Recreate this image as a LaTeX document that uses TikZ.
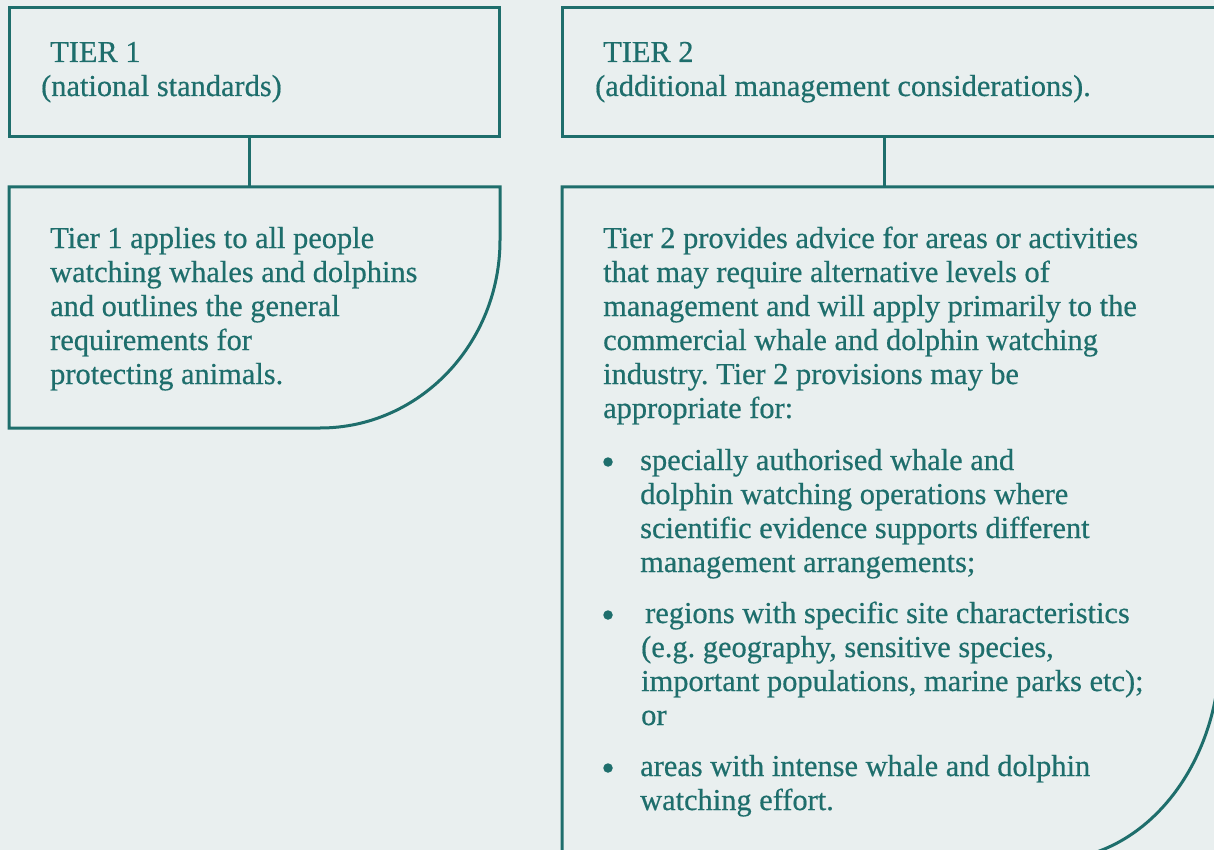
\documentclass[tikz,border=0pt]{standalone}
\usepackage{fontspec}
\setmainfont{Liberation Serif}[FakeBold=0.5]
\usepackage{tikz}
\usetikzlibrary{positioning}
\definecolor{tierteal}{RGB}{30,110,108}
\definecolor{tierbg}{RGB}{233,239,239}
\frenchspacing
\newcommand{\tierpar}[1]{\parbox[t]{640pt}{\fontsize{30.4}{34}\selectfont\raggedright #1}}

\begin{document}
\begin{tikzpicture}[x=1pt,y=1pt,
    tierbox/.style={draw=tierteal,line width=3pt,rectangle,anchor=north west,inner sep=0pt,outer sep=0pt},
    descbox/.style={rectangle,anchor=north west,inner sep=0pt,outer sep=0pt},
    tierline/.style={draw=tierteal,line width=3pt},
    tiertext/.style={anchor=base west,inner sep=0pt,text=tierteal},
    tierdot/.style={circle,fill=tierteal,inner sep=0pt,minimum size=9.5pt}]
    \fill[tierbg] (0,0) rectangle (1214,-850);
    \useasboundingbox (0,0) rectangle (1214,-850);
    \node[tierbox,minimum width=490pt,minimum height=129pt] (t1) at (9,-8) {};
    \node[tierbox,minimum width=654pt,minimum height=129pt] (t2) at (562,-8) {};
    \node[descbox,minimum width=491pt,minimum height=241pt] (d1) at (9,-187) {};
    \node[descbox,minimum width=658pt,minimum height=673pt] (d2) at (562,-187) {};
    % boxes with the curved corner
    \draw[tierline] (d1.north west) -- (d1.north east) -- ++(0,-53)
        arc[start angle=0,end angle=-90,x radius=180,y radius=188] -- (d1.south west) -- cycle;
    \draw[tierline] (d2.north west) -- (d2.north east) -- ++(0,-463)
        arc[start angle=0,end angle=-90,x radius=170,y radius=210] -- (d2.south west) -- cycle;
    \draw[tierline] ([xshift=-5pt]t1.south) -- ([xshift=-5pt]t1.south |- d1.north);
    \draw[tierline] ([xshift=-5pt]t2.south) -- ([xshift=-5pt]t2.south |- d2.north);
    % texts
    \node[tiertext] (h1) at ([shift={(32,-54)}]t1.north west) {\tierpar{\hspace*{9pt}TIER 1\\(national standards)}};
    \node[tiertext] (h2) at ([shift={(33,-54)}]t2.north west) {\tierpar{\hspace*{8pt}TIER 2\\(additional management considerations).}};
    \node[tiertext] (p1) at ([shift={(41,-61)}]d1.north west) {\tierpar{Tier 1 applies to all people\\watching whales and dolphins\\and outlines the general\\requirements for\\protecting animals.}};
    \node[tiertext] (p2) at ([shift={(41,-61)}]d2.north west) {\tierpar{Tier 2 provides advice for areas or activities\\that may require alternative levels of\\management and will apply primarily to the\\commercial whale and dolphin watching\\industry. Tier 2 provisions may be\\appropriate for:}};
    \node[tiertext] (i1) at ([shift={(78,-283)}]d2.north west) {\tierpar{specially authorised whale and\\dolphin watching operations where\\scientific evidence supports different\\management arrangements;}};
    \node[tiertext] (i2) at ([shift={(79,-436)}]d2.north west) {\tierpar{\hspace*{4pt}regions with specific site characteristics\\(e.g. geography, sensitive species,\\important populations, marine parks etc);\\or}};
    \node[tiertext] (i3) at ([shift={(78,-589)}]d2.north west) {\tierpar{areas with intense whale and dolphin\\watching effort.}};
    \node[tierdot] (b1) at ([shift={(-32,8)}]i1.base west) {};
    \node[tierdot] (b2) at ([shift={(-32,8)}]i1.base west |- i2.base) {};
    \node[tierdot] (b3) at ([shift={(-32,8)}]i1.base west |- i3.base) {};
\end{tikzpicture}
\end{document}
